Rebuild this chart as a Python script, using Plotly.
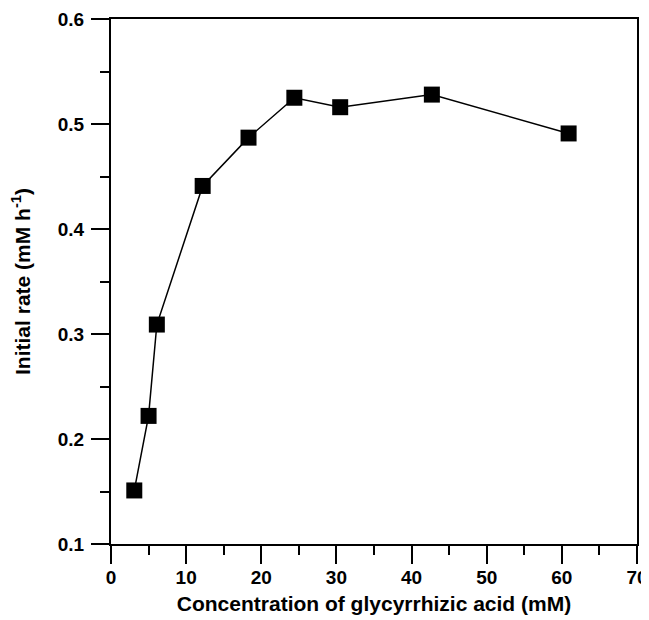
import plotly.graph_objects as go

concentration = [3.1, 5.0, 6.1, 12.2, 18.3, 24.4, 30.5, 42.7, 60.9]
initial_rate = [0.151, 0.222, 0.309, 0.441, 0.487, 0.525, 0.516, 0.528, 0.491]

x_ticks = [0, 10, 20, 30, 40, 50, 60, 70]
y_ticks = [0.1, 0.2, 0.3, 0.4, 0.5, 0.6]
y_tick_labels = ["0.1", "0.2", "0.3", "0.4", "0.5", "0.6"]

FONT = "Liberation Sans, Arial, Helvetica, sans-serif"

fig = go.Figure()
fig.add_trace(go.Scatter(
    x=concentration, y=initial_rate, mode="lines+markers",
    line=dict(color="black", width=1.5),
    marker=dict(symbol="square", size=16, color="black"),
    cliponaxis=False, showlegend=False,
))

axis_common = dict(
    showgrid=False, zeroline=False, showline=True, linecolor="black", linewidth=2,
    mirror=True, ticks="outside", ticklen=18, tickwidth=2, tickcolor="black",
    tickfont=dict(family=FONT, size=19, color="black", weight="bold"),
    automargin=False,
)

fig.update_layout(
    width=641, height=612,
    margin=dict(l=103, r=12, t=11, b=76),
    paper_bgcolor="white", plot_bgcolor="white",
    xaxis=dict(
        range=[0, 70], tickvals=x_ticks, ticklabelstandoff=-3,
        minor=dict(dtick=5, ticks="outside", ticklen=9, tickwidth=2, tickcolor="black", showgrid=False),
        title=dict(text="Concentration of glycyrrhizic acid (mM)",
                   font=dict(family=FONT, size=21, color="black", weight="bold"), standoff=10),
        **axis_common,
    ),
    yaxis=dict(
        range=[0.1, 0.6], tickvals=y_ticks, ticktext=y_tick_labels, ticklabelstandoff=3,
        minor=dict(dtick=0.05, tick0=0.1, ticks="outside", ticklen=9, tickwidth=2, tickcolor="black", showgrid=False),
        title=dict(text="Initial rate (mM h<sup>-1</sup>)",
                   font=dict(family=FONT, size=21, color="black", weight="bold"), standoff=33),
        **axis_common,
    ),
)

fig.write_html("out.html")
